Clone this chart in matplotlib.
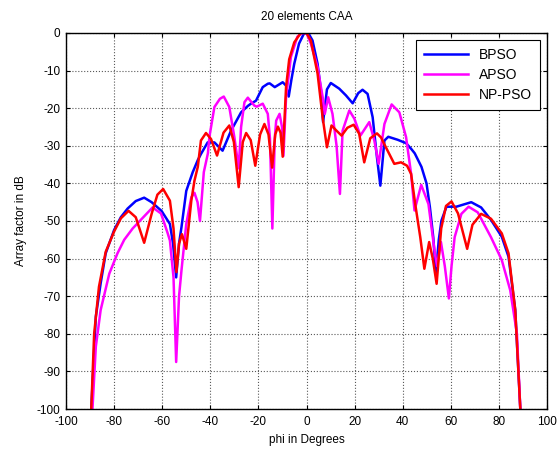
import matplotlib
matplotlib.use('Agg')
import matplotlib.pyplot as plt
import numpy as np

# BPSO
phi_bpso = [-89.5, -87.6, -85.6, -83.5, -80, -77.2, -74.4, -71, -67.5, -64.4, -60.3, -56.8, -55.5, -54.2, -53,
            -52, -50, -47.3, -45.2, -43.9, -41.1, -38.3, -34.9, -31.4, -27.2, -24.4, -23.1, -21, -18.2, -16.1,
            -15.3, -13.2, -9.9, -8.5, -7.4, -6.3, -5.1, -3.1, -1.1, 0, 1.0, 2.5, 4.6, 6, 6.9, 8.5, 10.1, 13.6,
            16.4, 19.2, 21.5, 23.3, 25.4, 27.5, 29.3, 30.7, 32.4, 34, 37.9, 41.4, 43.5, 45, 47.8, 49.9, 51.3,
            52.7, 53.8, 55, 56.1, 58.2, 62.3, 68.5, 72.6, 76.7, 81.2, 84, 86.8, 88.9]
af_bpso = [-100, -75.4, -66.6, -58.6, -52.4, -49, -46.7, -44.7, -43.8, -45, -47.3, -50.8, -56, -65, -56,
           -51.7, -42, -37, -33.8, -32.2, -29.1, -29.1, -31.3, -26, -21.1, -19.4, -18.8, -18, -14.4, -13.5,
           -13.4, -14.4, -13.1, -14, -16.9, -12.5, -8.2, -2.8, -0.2, 0, -0.3, -2, -8.2, -15.3, -23.7, -15, -13.3,
           -14.8, -16.6, -18.7, -16, -15.1, -16.2, -22.4, -33.1, -40.6, -28.6, -27.6, -28.4, -29.3, -30.8, -32,
           -35.6, -40, -46.3, -54.3, -64, -55, -49.9, -46.2, -46.2, -45, -46.4, -49.7, -54.2, -59.5, -73.7, -100]

# APSO
phi_apso = [-89, -87.6, -85.6, -82, -78.6, -75.8, -72.3, -68.9, -64, -60.5, -57.7, -56.8, -55.3, -54.2, -53,
            -52, -50, -47.9, -46.6, -45.3, -44.3, -42.7, -41, -40.4, -38.3, -36, -34.4, -32.1, -30, -28.2,
            -27.2, -25.8, -24.4, -21.7, -20.7, -18.2, -16.1, -15.2, -14.2, -13.2, -12.6, -11.2, -10.2, -9.6,
            -8.5, -6.5, -3.8, -1.8, 0, 1.8, 4.6, 6.7, 7.6, 9, 10.8, 12.5, 13.9, 15, 17.8, 19.9, 22.4, 26.1,
            28.2, 30, 32.4, 35.4, 38.6, 41.4, 43.5, 44.9, 47.7, 50.7, 53.4, 54.3, 55.9, 57.5, 59.2, 60.3, 61.6,
            64.4, 67.4, 71.2, 76.7, 81.2, 84.7, 87.5, 88.9]
af_apso = [-100, -83.4, -73.7, -64, -58.6, -55, -52, -49.7, -46.4, -48, -53.3, -55.2, -65, -87.5, -70,
           -63.2, -50.8, -43.7, -42.5, -45, -50, -37, -32, -27.7, -19.7, -17.5, -16.9, -19.7, -27.7, -36,
           -25, -18.4, -17.2, -19.3, -19.6, -18.8, -21.5, -28, -52, -28, -23.3, -21.5, -25, -32.7,
           -17.1, -6.4, -1, 0, 0, -2.8, -9.1, -17, -21.5, -17.1, -21.5, -30, -42.8, -26, -20.6, -22.8, -27.3,
           -23.7, -28.6, -34.8, -24.2, -19, -21.1, -27.7, -37.5, -47.2, -40.4, -45.5, -58.7, -62, -55.6, -62,
           -70.6, -62, -54.3, -48.1, -46.2, -47.7, -54.3, -60.4, -68.4, -80, -100]

# NP-PSO
phi_nppso = [-89.5, -88.3, -86.3, -83.5, -80, -77.2, -74, -71, -67.5, -64.4, -62, -59.6, -56.8, -55.3, -54.1,
             -53, -51.8, -50, -47.9, -46.6, -45.2, -43.9, -41.8, -39.7, -37.2, -34.5, -32.1, -30.2, -28.2,
             -26.5, -25.1, -23.2, -21.3, -19.3, -17.5, -15.8, -14.3, -13, -11.9, -10.8, -9.9, -8.5, -7.2,
             -5.1, -2.4, -1, 0, 1.8, 4.6, 6.7, 8.5, 10.4, 12.5, 14.6, 17, 19.6, 21.9, 24, 26.5, 29.3, 31, 33,
             36.5, 39.3, 41.8, 43.5, 45.2, 47.3, 49, 51, 52.5, 54.1, 56, 58, 60.3, 63, 66.8, 69, 72.6, 76.7,
             81.2, 84, 86.8, 88.9]
af_nppso = [-100, -80, -67.5, -58.2, -52.8, -49.3, -47.3, -49, -55.8, -48.1, -43, -41.5, -44.6, -52, -63.6,
            -56, -53.5, -57.4, -44.6, -39.3, -35.6, -28.6, -26.6, -28.2, -32.6, -26.5, -24.6, -29, -41,
            -29, -26.6, -28.5, -35.3, -27, -24.2, -27, -35.8, -27, -24.9, -26.5, -32.9, -14.4, -7,
            -2.5, 0, 0, 0, -2, -10.8, -22.4, -30.4, -24.6, -26, -27.3, -25.2, -24.4, -26.8, -34.4, -28, -26.7,
            -27.8, -30.4, -34.8, -34.4, -35.3, -37.5, -45.5, -54.3, -62.7, -55.6, -60, -66.7, -52, -46,
            -44.8, -48, -57.4, -51, -48.1, -49.4, -53.3, -58.6, -73.7, -100]

plt.rcParams['font.family'] = ['Liberation Sans', 'DejaVu Sans']
plt.rcParams['axes.unicode_minus'] = False

fig = plt.figure(figsize=(5.58, 4.5), dpi=100)
ax = fig.add_axes([0.1183, 0.0911, 0.8620, 0.8356])

lw = 1.8
ax.plot(phi_bpso, af_bpso, color=(0, 0, 1), lw=lw, solid_joinstyle='round', label='BPSO')
ax.plot(phi_apso, af_apso, color=(1, 0, 1), lw=lw, solid_joinstyle='round', label='APSO')
ax.plot(phi_nppso, af_nppso, color=(1, 0, 0), lw=lw, solid_joinstyle='round', label='NP-PSO')

ax.set_xlim(-100, 100)
ax.set_ylim(-100, 0)
ax.set_xticks(np.arange(-100, 101, 20))
ax.set_yticks(np.arange(-100, 1, 10))
ax.tick_params(direction='in', top=True, right=True, labelsize=8.5, length=3)
ax.tick_params(axis='x', pad=5)
ax.tick_params(axis='y', pad=4)
ax.grid(True, linestyle=':', color='0.35', lw=0.8)
for s in ax.spines.values():
    s.set_linewidth(1.0)

ax.set_title('20 elements CAA', fontsize=8.5, pad=9)
ax.set_xlabel('phi in Degrees', fontsize=8.5, labelpad=4)
ax.set_ylabel('Array factor in dB', fontsize=8.5, labelpad=7)

leg = ax.legend(loc='upper right', fontsize=10, fancybox=False, edgecolor='black', framealpha=1,
                handlelength=3.2, borderaxespad=0.5, borderpad=0.55, labelspacing=0.45)
leg.get_frame().set_linewidth(0.8)

plt.savefig('out.png', dpi=100)
